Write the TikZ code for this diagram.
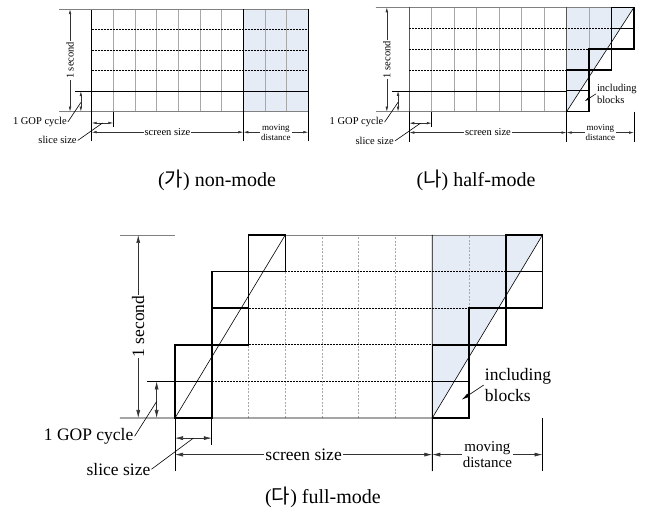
\documentclass[tikz,border=0pt]{standalone}
\usepackage{fontspec}
\setmainfont{Liberation Serif}
\newfontfamily\kr{Noto Sans CJK KR}
\usetikzlibrary{arrows.meta}
\definecolor{Shade}{HTML}{E6ECF6}
\definecolor{GridGray}{HTML}{A8A8A8}
\definecolor{RimGray}{HTML}{808080}
\tikzset{cell/.style={line width=1.5pt,draw=black},hair/.style={line width=.6pt,draw=black},rowline/.style={line width=.7pt,dash pattern=on 2pt off 1pt,draw=black},colline/.style={line width=.6pt,dash pattern=on 2pt off 1.5pt,draw=GridGray},rim/.style={line width=.9pt,draw=RimGray},dim/.style={<->,line width=.6pt,draw=black!80},leader/.style={line width=.6pt,draw=black},caption/.style={font=\fontsize{20}{24}\selectfont}}
% dimension marks shared by the three drawings
\newcommand\dimmarks[1]{%
  \draw[rim] (-1.5,5) -- (0,5);
  \draw[hair] (-0.75,1) -- (0,1);
  \draw[hair] (0,0) -- (0,-1.45) (1,0) -- (1,-0.75) (7,0) -- (7,-1.45) (10,0) -- (10,-1.45);
  \coordinate (#1b) at (-1,0); \coordinate (#1t) at (-1,5);
  \draw[dim] (#1b) -- node[lab,fill=white,rotate=90,inner sep=1pt] (#1sec) {1 second} (#1t);
  \coordinate (#1g0) at (-0.5,0); \coordinate (#1g1) at (-0.5,1); \coordinate (#1gm) at (-0.5,0.45);
  \draw[dim] (#1g0) -- (#1g1);
  \coordinate (#1s0) at (0,-0.55); \coordinate (#1s1) at (1,-0.55);
  \draw[dim] (#1s0) -- coordinate (#1sm) (#1s1);
  \coordinate (#1w0) at (0,-1); \coordinate (#1w1) at (7,-1); \coordinate (#1w2) at (10,-1);
  \draw[dim] (#1w0) -- node[lab,fill=white,inner sep=1pt] (#1scr) {screen size} (#1w1);
  \draw[dim] (#1w1) -- node[sublab,fill=white,align=center,inner sep=1pt] (#1mov) {moving\\distance} (#1w2);
  \node[lab,anchor=east,inner sep=1pt] (#1gop) at (-1.1,-0.5) {1 GOP cycle};
  \draw[leader] (#1gop.east) -- (#1gm);
  \node[lab,anchor=east,inner sep=1pt] (#1sl) at (-0.64,-1.4) {slice size};
  \draw[leader] (#1sl.east) -- (#1sm);
}

\begin{document}
\begin{tikzpicture}
  \useasboundingbox (0,0) rectangle (650pt,508pt);
  % (ga) non-mode
  \begin{scope}[shift={(91.7pt,396.3pt)},x=21.66pt,y=20.5pt,lab/.style={font=\fontsize{10.5}{12}\selectfont},sublab/.style={font=\fontsize{9}{10}\selectfont},colline/.append style={solid},>={Latex[length=5pt,width=2.6pt]}]
    \fill[Shade] (7,0) rectangle (10,5);
    \draw[colline] \foreach \c in {1,...,6,8,9} {(\c,0) -- (\c,5)};
    \draw[rowline] (0,2) -- (10,2) (0,3) -- (10,3) (0,4) -- (10,4);
    \draw[hair] (-0.75,1) -- (10,1);
    \draw[rim] (-1.5,5) -- (10,5) (-1.5,0) -- (10,0);
    \draw[hair] (0,-1.45) -- (0,5) (7,-1.45) -- (7,5) (10,-1.45) -- (10,5);
    \dimmarks{n}
  \end{scope}
  % (na) half-mode
  \begin{scope}[shift={(409.3pt,396.3pt)},x=22.47pt,y=20.88pt,lab/.style={font=\fontsize{10.5}{12}\selectfont},sublab/.style={font=\fontsize{9}{10}\selectfont},colline/.append style={solid},>={Latex[length=5pt,width=2.6pt]}]
    \fill[Shade] (7,0) -- (7,5) -- (10,5) -- cycle;
    \draw[colline] \foreach \c in {1,...,6} {(\c,0) -- (\c,5)} (8,3) -- (8,5);
    \draw[rowline] (0,2) -- (7,2) (0,3) -- (8,3) (0,4) -- (9,4);
    \draw[hair] (-0.75,1) -- (7,1);
    \draw[rim] (-1.5,5) -- (9,5) (-1.5,0) -- (7,0);
    \draw[hair] (0,-1.45) -- (0,5) (7,-1.45) -- (7,5) (7,0) -- (10,5);
    \foreach \c/\r in {7/0,7/1,8/2,9/3,9/4}
      \draw[cell,line width=1.2pt] (\c,\r) rectangle ++(1,1);
    \dimmarks{h}
    \node[lab,anchor=west,align=left,inner sep=1pt] (hinc) at (8.3,0.85) {including\\blocks};
    \coordinate (hin) at (7.8,0.5);
    \draw[leader,->] (hinc.west) -- (hin);
  \end{scope}
  % (da) full-mode
  \begin{scope}[shift={(175pt,90pt)},x=36.75pt,y=36.6pt,lab/.style={font=\fontsize{17.5}{20.5}\selectfont},sublab/.style={font=\fontsize{15}{16.5}\selectfont},>={Latex[length=8pt,width=4pt]}]
    \fill[Shade] (7,0) -- (7,5) -- (10,5) -- cycle;
    \draw[colline] (2,0) -- (2,2) (3,0) -- (3,4) (4,0) -- (4,5) (5,0) -- (5,5) (6,0) -- (6,5) (8,3) -- (8,5);
    \draw[rowline] (1,1) -- (7,1) (2,2) -- (7,2) (2,3) -- (8,3) (3,4) -- (9,4);
    \draw[rim] (3,5) -- (9,5);
    \draw[hair] (-1.5,0) -- (7,0) (7,-1.45) -- (7,5) (0,0) -- (3,5) (7,0) -- (10,5);
    \foreach \c/\r in {0/0,0/1,1/2,1/3,2/4,7/0,7/1,8/2,9/3,9/4}
      \draw[cell] (\c,\r) rectangle ++(1,1);
    \dimmarks{f}
    \node[lab,anchor=west,align=left,inner sep=1pt] (finc) at (8.4,0.9) {including\\blocks};
    \coordinate (fin) at (7.8,0.5);
    \draw[leader,->] (finc.west) -- (fin);
  \end{scope}
  % captions
  \node[caption] (capn) at (217pt,328pt) {({\kr 가}) non-mode};
  \node[caption] (caph) at (476pt,328pt) {({\kr 나}) half-mode};
  \node[caption] (capf) at (323pt,11pt) {({\kr 다}) full-mode};
\end{tikzpicture}
\end{document}
